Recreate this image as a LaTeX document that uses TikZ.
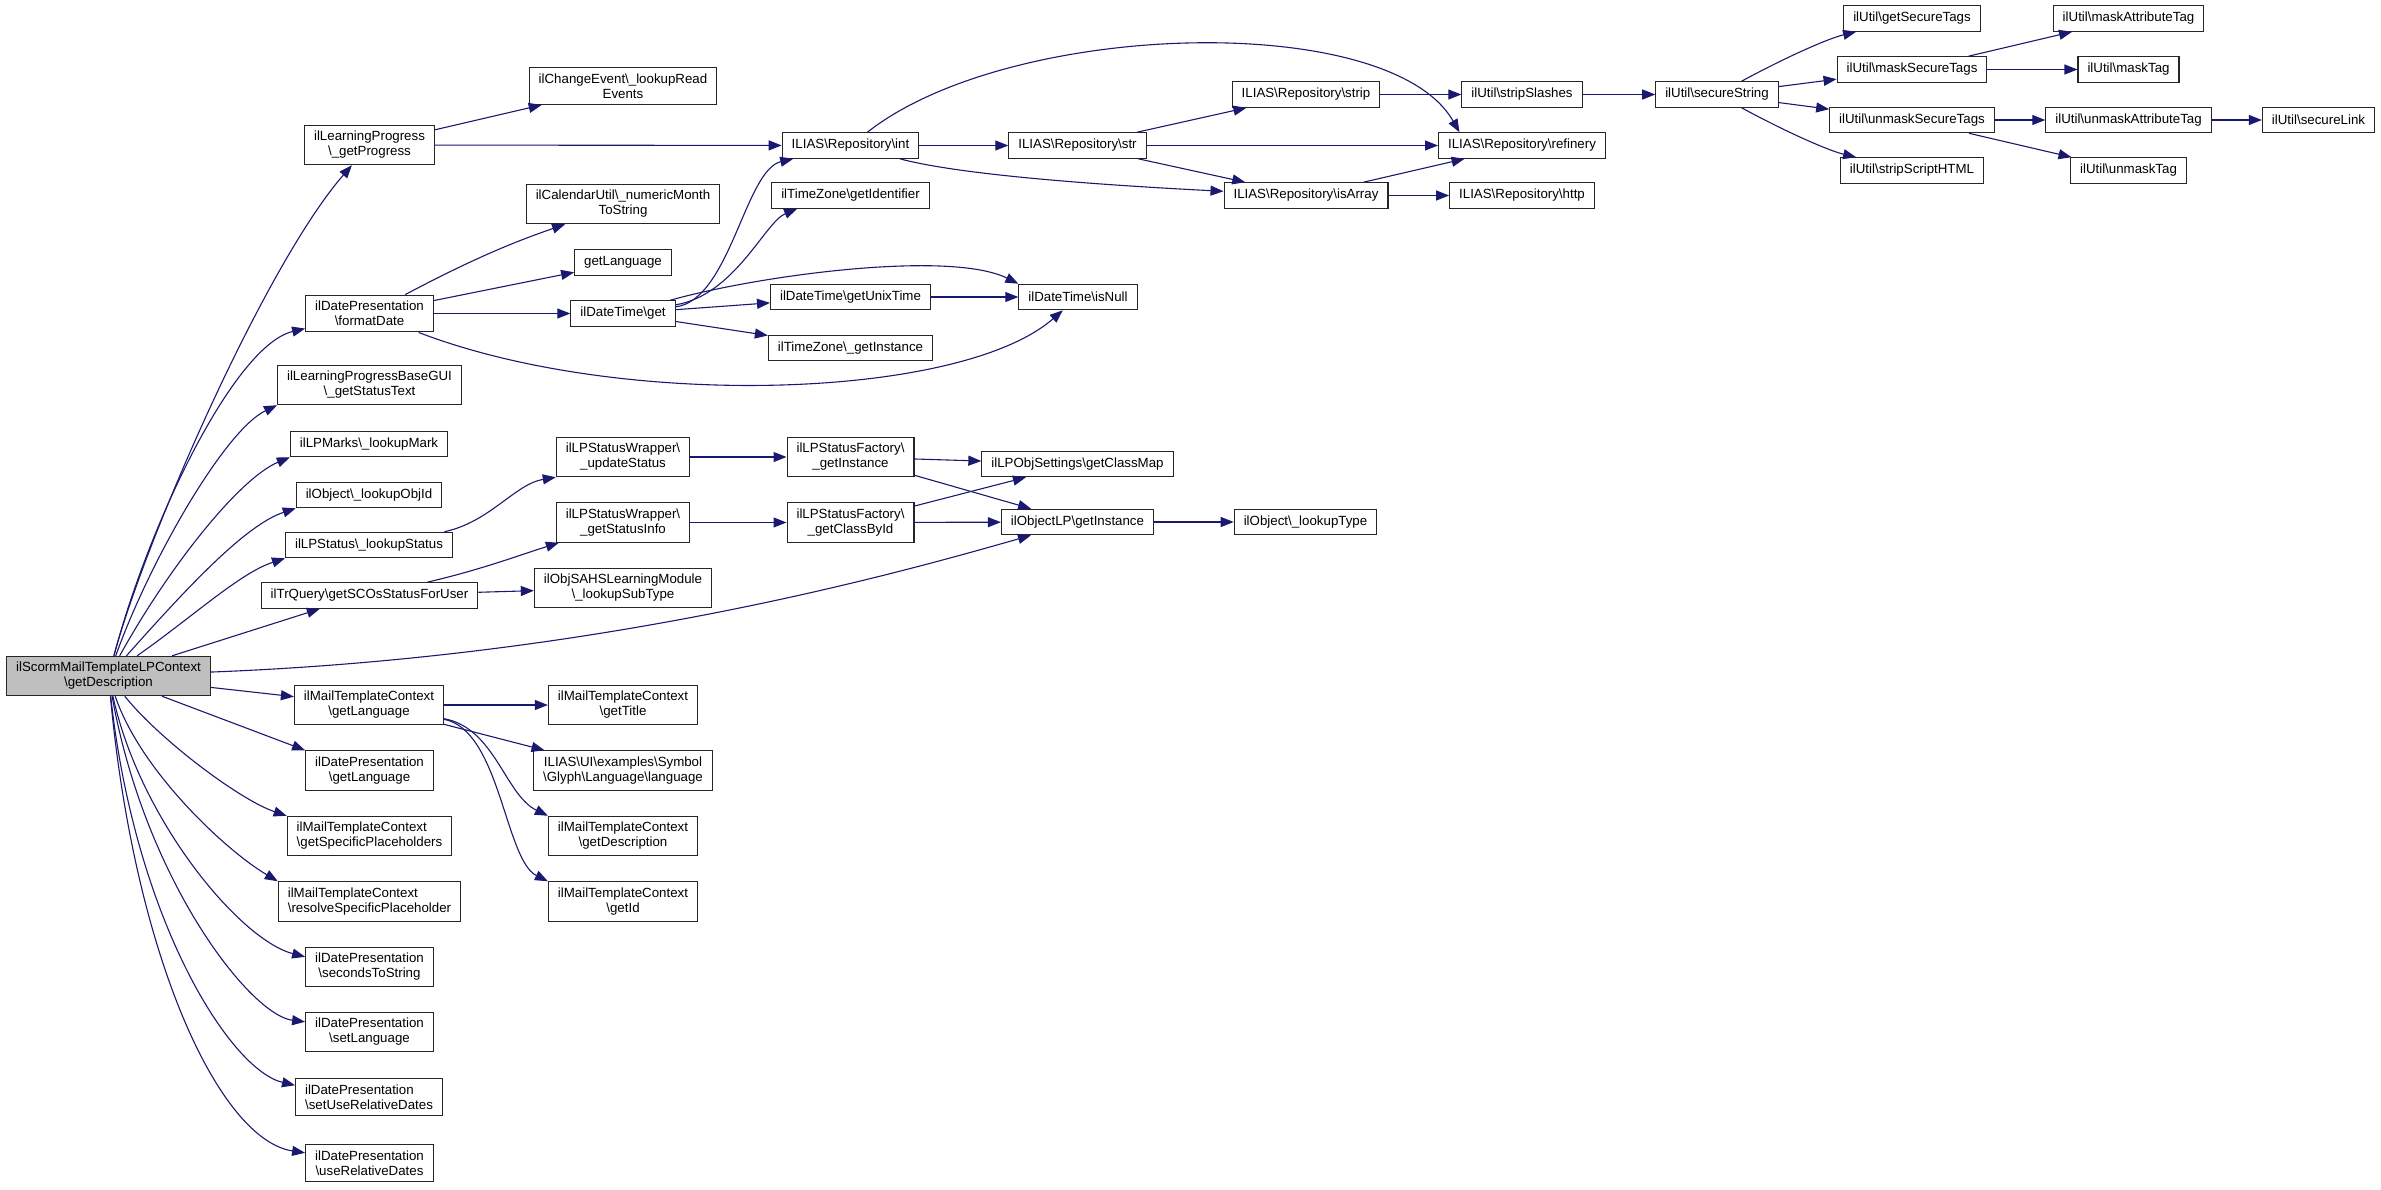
\documentclass[tikz,border=0pt]{standalone}
\usepackage{fontspec}
\setmainfont{Liberation Sans}
\usetikzlibrary{arrows.meta}
\definecolor{edgeblue}{HTML}{191970}
\newcommand{\bsl}{\textbackslash}

\begin{document}
\begin{tikzpicture}[x=1pt,y=-1pt,
	fn/.style={draw=black!85, line width=1.1pt, fill=white, inner xsep=9.5pt, inner ysep=6pt,
		minimum height=25.5pt, align=center, font=\fontsize{13.3}{15}\selectfont},
	rootfn/.style={fn, fill=black!25},
	call/.style={draw=edgeblue, line width=1.1pt, -{Triangle[length=13pt,width=10pt]}}]
	\useasboundingbox (0,0) rectangle (2381,1189);
	% the caller
	\node[rootfn] (root) at (108.5,676) {ilScormMailTemplateLPContext\\\bsl{}getDescription};
	% first column of callees
	\node[fn] (prog) at (369.5,145) {ilLearningProgress\\\bsl{}\_getProgress};
	\node[fn] (fmt) at (369.5,313.5) {ilDatePresentation\\\bsl{}formatDate};
	\node[fn] (gst) at (369.5,385) {ilLearningProgressBaseGUI\\\bsl{}\_getStatusText};
	\node[fn] (lm) at (369,444) {ilLPMarks\bsl{}\_lookupMark};
	\node[fn] (loi) at (369,495) {ilObject\bsl{}\_lookupObjId};
	\node[fn] (lst) at (369,545) {ilLPStatus\bsl{}\_lookupStatus};
	\node[fn] (trq) at (369.5,595.5) {ilTrQuery\bsl{}getSCOsStatusForUser};
	\node[fn] (mlang) at (369,705) {ilMailTemplateContext\\\bsl{}getLanguage};
	\node[fn] (dpl) at (369.5,770.5) {ilDatePresentation\\\bsl{}getLanguage};
	\node[fn, align=left] (gsp) at (369.5,836) {ilMailTemplateContext\\\bsl{}getSpecificPlaceholders};
	\node[fn, align=left] (rsp) at (369.5,901.5) {ilMailTemplateContext\\\bsl{}resolveSpecificPlaceholder};
	\node[fn] (s2s) at (369.5,967) {ilDatePresentation\\\bsl{}secondsToString};
	\node[fn] (setl) at (369.5,1032) {ilDatePresentation\\\bsl{}setLanguage};
	\node[fn, align=left] (surd) at (369,1097) {ilDatePresentation\\\bsl{}setUseRelativeDates};
	\node[fn] (urd) at (369.5,1163) {ilDatePresentation\\\bsl{}useRelativeDates};
	% second column
	\node[fn] (chg) at (623,86) {ilChangeEvent\bsl{}\_lookupRead\\Events};
	\node[fn] (cal) at (623,204) {ilCalendarUtil\bsl{}\_numericMonth\\ToString};
	\node[fn] (glang) at (623,262.5) {getLanguage};
	\node[fn] (dtget) at (623,313.5) {ilDateTime\bsl{}get};
	\node[fn] (upd) at (623,457) {ilLPStatusWrapper\bsl{}\\\_updateStatus};
	\node[fn] (gsi) at (623,522.5) {ilLPStatusWrapper\bsl{}\\\_getStatusInfo};
	\node[fn] (sub) at (623,588) {ilObjSAHSLearningModule\\\bsl{}\_lookupSubType};
	\node[fn] (title) at (623,705) {ilMailTemplateContext\\\bsl{}getTitle};
	\node[fn] (sym) at (623,770.5) {ILIAS\bsl{}UI\bsl{}examples\bsl{}Symbol\\\bsl{}Glyph\bsl{}Language\bsl{}language};
	\node[fn] (mdesc) at (623,836) {ilMailTemplateContext\\\bsl{}getDescription};
	\node[fn] (mid) at (623,901.5) {ilMailTemplateContext\\\bsl{}getId};
	% third and fourth column
	\node[fn] (int) at (850.5,145.5) {ILIAS\bsl{}Repository\bsl{}int};
	\node[fn] (tzid) at (850.5,195.5) {ilTimeZone\bsl{}getIdentifier};
	\node[fn] (unix) at (850.5,297) {ilDateTime\bsl{}getUnixTime};
	\node[fn] (tzinst) at (850.5,348) {ilTimeZone\bsl{}\_getInstance};
	\node[fn] (fgi) at (850.5,457) {ilLPStatusFactory\bsl{}\\\_getInstance};
	\node[fn] (fcb) at (850.5,522.5) {ilLPStatusFactory\bsl{}\\\_getClassById};
	\node[fn] (str) at (1077.5,145.5) {ILIAS\bsl{}Repository\bsl{}str};
	\node[fn] (isnull) at (1078,297) {ilDateTime\bsl{}isNull};
	\node[fn] (map) at (1077.5,464) {ilLPObjSettings\bsl{}getClassMap};
	\node[fn] (olp) at (1077.5,522) {ilObjectLP\bsl{}getInstance};
	% repository and util nodes
	\node[fn] (strip) at (1306,94.5) {ILIAS\bsl{}Repository\bsl{}strip};
	\node[fn] (isarr) at (1306,195.5) {ILIAS\bsl{}Repository\bsl{}isArray};
	\node[fn] (lkt) at (1305.5,522) {ilObject\bsl{}\_lookupType};
	\node[fn] (sls) at (1522,94.5) {ilUtil\bsl{}stripSlashes};
	\node[fn] (ref) at (1522,145.5) {ILIAS\bsl{}Repository\bsl{}refinery};
	\node[fn] (http) at (1522,195.5) {ILIAS\bsl{}Repository\bsl{}http};
	\node[fn] (ss) at (1717,94.5) {ilUtil\bsl{}secureString};
	\node[fn] (gsec) at (1912,18.5) {ilUtil\bsl{}getSecureTags};
	\node[fn] (mst) at (1912,69.5) {ilUtil\bsl{}maskSecureTags};
	\node[fn] (ust) at (1912,120) {ilUtil\bsl{}unmaskSecureTags};
	\node[fn] (ssh) at (1912,170.5) {ilUtil\bsl{}stripScriptHTML};
	\node[fn] (mat) at (2128.5,18.5) {ilUtil\bsl{}maskAttributeTag};
	\node[fn] (mtag) at (2128.5,69.5) {ilUtil\bsl{}maskTag};
	\node[fn] (uat) at (2128.5,120) {ilUtil\bsl{}unmaskAttributeTag};
	\node[fn] (utag) at (2128.5,170.5) {ilUtil\bsl{}unmaskTag};
	\node[fn] (slink) at (2318.5,120) {ilUtil\bsl{}secureLink};
	% fan out of the caller, upper half
	\draw[call] (root) .. controls (145,540) and (265,265) .. (prog);
	\draw[call] (root) .. controls (150,520) and (235,345) .. (fmt);
	\draw[call] (root) .. controls (150,560) and (225,430) .. (gst.south west);
	\draw[call] (root) .. controls (170,565) and (240,478) .. (lm.south west);
	\draw[call] (root) .. controls (185,590) and (245,525) .. (loi.south west);
	\draw[call] (root) .. controls (195,615) and (240,573) .. (lst.south west);
	\draw[call] (root) -- (trq.195);
	\draw[call] (root) .. controls (600,657) and (895.5,574) .. (olp);
	% fan out of the caller, lower half
	\draw[call] (root) -- (mlang);
	\draw[call] (root) -- (dpl.north west);
	\draw[call] (root) .. controls (160,740) and (240,800) .. (gsp.north west);
	\draw[call] (root) .. controls (140,770) and (225,850) .. (rsp.north west);
	\draw[call] (root) .. controls (140,820) and (240,940) .. (s2s.171);
	\draw[call] (root) .. controls (145,880) and (250,1015) .. (setl.171);
	\draw[call] (root) .. controls (135,920) and (230,1070) .. (surd.171);
	\draw[call] (root) .. controls (135,960) and (220,1140) .. (urd.171);
	% progress and dates
	\draw[call] (prog) -- (chg);
	\draw[call] (prog) -- (int);
	\draw[call] (fmt) .. controls (480,255) and (520,240) .. (cal);
	\draw[call] (fmt) -- (glang);
	\draw[call] (fmt) -- (dtget);
	\draw[call] (fmt) .. controls (620,410) and (960,400) .. (isnull);
	\draw[call] (dtget) .. controls (730,300) and (745,170) .. (int);
	\draw[call] (dtget) .. controls (735,295) and (765,222) .. (tzid.194);
	\draw[call] (dtget) .. controls (760,275) and (950,250) .. (isnull.north west);
	\draw[call] (dtget) -- (unix);
	\draw[call] (dtget) -- (tzinst);
	\draw[call] (unix) -- (isnull);
	% repository
	\draw[call] (int) -- (str);
	\draw[call] (int) .. controls (1010,20) and (1390,10) .. (ref.168);
	\draw[call] (int) .. controls (960,175) and (1100,185) .. (isarr);
	\draw[call] (str) -- (strip);
	\draw[call] (str) -- (ref);
	\draw[call] (str) -- (isarr);
	\draw[call] (strip) -- (sls);
	\draw[call] (isarr) -- (ref);
	\draw[call] (isarr) -- (http);
	% util
	\draw[call] (sls) -- (ss);
	\draw[call] (ss) .. controls (1790,55) and (1830,38) .. (gsec);
	\draw[call] (ss) -- (mst);
	\draw[call] (ss) -- (ust);
	\draw[call] (ss) .. controls (1790,134) and (1830,151) .. (ssh);
	\draw[call] (mst) -- (mat);
	\draw[call] (mst) -- (mtag);
	\draw[call] (ust) -- (uat);
	\draw[call] (ust) -- (utag);
	\draw[call] (uat) -- (slink);
	% learning progress status
	\draw[call] (lst.10) .. controls (490,522) and (515,484) .. (upd.south west);
	\draw[call] (trq) .. controls (480,570) and (520,555) .. (gsi);
	\draw[call] (trq) -- (sub);
	\draw[call] (upd) -- (fgi);
	\draw[call] (gsi) -- (fcb);
	\draw[call] (fgi) -- (map);
	\draw[call] (fgi) -- (olp);
	\draw[call] (fcb) -- (map);
	\draw[call] (fcb) -- (olp);
	\draw[call] (olp) -- (lkt);
	% mail template context
	\draw[call] (mlang) -- (title);
	\draw[call] (mlang) -- (sym);
	\draw[call] (mlang) .. controls (495,728) and (505,795) .. (mdesc.north west);
	\draw[call] (mlang) .. controls (500,730) and (505,860) .. (mid.north west);
\end{tikzpicture}
\end{document}
